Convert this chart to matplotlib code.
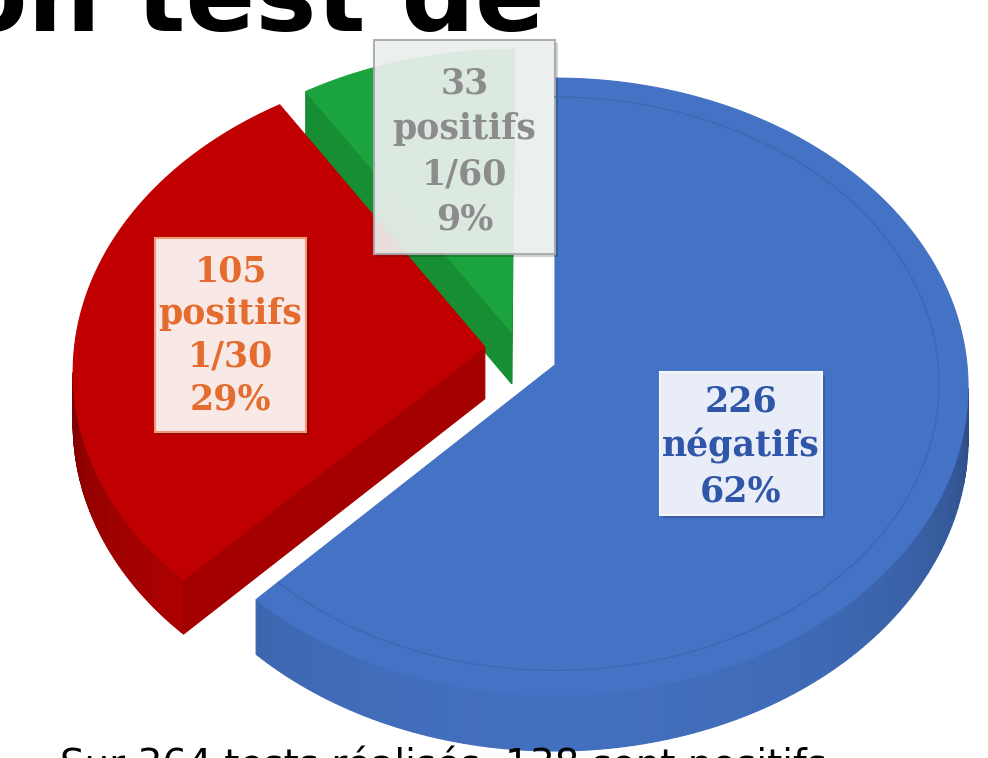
import numpy as np
import matplotlib.pyplot as plt
from matplotlib.patches import Polygon, Rectangle
from matplotlib.colors import to_rgb

# data
counts = [226, 105, 33]
kinds = ["négatifs", "positifs", "positifs"]
ratios = ["", "1/30", "1/60"]

# styles
top_colors = ["#4472C4", "#C00000", "#1BA43D"]
text_colors = ["#2F56A8", "#E46C2E", "#8C8C8C"]
box_colors = ["#E9EDF7", "#F8E8E6", "#EEF2F0"]
box_edges = ["#F4F6FB", "#EC9A78", "#A8A8A8"]
box_alpha = [1.0, 1.0, 0.92]
explode = [(0.0, 0.0), (-0.171, 0.059), (-0.106, 0.108)]  # shift of each slice, pie radius units
boxes = [(660, 372, 162, 143), (155, 238, 151, 194), (374, 40, 181, 214)]  # x, y, w, h in px
first_baseline = [412, 281, 93]
line_step = [45, 43, 45.5]

# pie geometry (pixels)
CX, CY = 555, 365
A, B, K, H = 412, 307, 0.07, 52
CAM_V = -1 / K


def proj(u, v, z=0.0):
    s = 1 / (1 + K * v)
    return CX + A * u * s, CY - B * v * s + H * z * s


def shade(c, f):
    r, g, b = to_rgb(c)
    return (r * f, g * f, b * f)


fig = plt.figure(figsize=(9.88, 7.58), dpi=100)
ax = fig.add_axes([0, 0, 1, 1])
ax.set_xlim(0, 988)
ax.set_ylim(758, 0)
ax.axis("off")

total = sum(counts)
edges = np.concatenate([[0], np.cumsum(counts)]) / total * 360

for i in [2, 1, 0]:
    a0, a1 = np.radians(edges[i]), np.radians(edges[i + 1])
    du, dv = explode[i]
    col = top_colors[i]
    th = np.linspace(a0, a1, 200)
    us, vs = du + np.sin(th), dv + np.cos(th)

    # outer curved side
    for j in range(len(th) - 1):
        tm = 0.5 * (th[j] + th[j + 1])
        pu, pv = du + np.sin(tm), dv + np.cos(tm)
        if (0 - pu) * np.sin(tm) + (CAM_V - pv) * np.cos(tm) <= 0:
            continue
        f = 0.55 + 0.42 * max(0.0, -np.cos(tm)) ** 0.6
        pts = [proj(us[j], vs[j]), proj(us[j + 1], vs[j + 1]),
               proj(us[j + 1], vs[j + 1], 1), proj(us[j], vs[j], 1)]
        ax.add_patch(Polygon(pts, closed=True, fc=shade(col, f), ec=shade(col, f), lw=0.8))

    # flat radial faces
    for ang, sign in [(a0, -1), (a1, 1)]:
        n = (sign * np.cos(ang), -sign * np.sin(ang))
        if (0 - du) * n[0] + (CAM_V - dv) * n[1] <= 1e-6:
            continue
        pu, pv = du + np.sin(ang), dv + np.cos(ang)
        pts = [proj(du, dv), proj(pu, pv), proj(pu, pv, 1), proj(du, dv, 1)]
        ax.add_patch(Polygon(pts, closed=True, fc=shade(col, 0.86), ec=shade(col, 0.86), lw=0.8))

    # top surface
    pts = [proj(du, dv)] + [proj(u, v) for u, v in zip(us, vs)]
    ax.add_patch(Polygon(pts, closed=True, fc=col, ec=col, lw=0.8))

    # bevel line on the big slice
    if i == 0:
        rim = [proj(du + 0.93 * np.sin(t), dv + 0.93 * np.cos(t)) for t in th]
        rx, ry = zip(*rim)
        ax.plot(rx, ry, color=shade(col, 0.9), lw=1.0)

# labels
for i in range(3):
    x, y, w, h = boxes[i]
    ax.add_patch(Rectangle((x + 3, y + 3), w, h, fc="black", alpha=0.18, lw=0))
    ax.add_patch(Rectangle((x, y), w, h, fc=box_colors[i], ec=box_edges[i], lw=1.5,
                           alpha=box_alpha[i]))
    pct = f"{round(100 * counts[i] / total)}%"
    lines = [str(counts[i]), kinds[i]] + ([ratios[i]] if ratios[i] else []) + [pct]
    for k, line in enumerate(lines):
        ax.text(x + w / 2, first_baseline[i] + k * line_step[i], line, ha="center", va="baseline",
                fontsize=25, fontweight="bold", family="DejaVu Serif", color=text_colors[i])

# cropped title and caption
ax.text(545, 31, "on test de", ha="right", va="baseline", fontsize=74, fontweight="bold",
        family="DejaVu Sans", color="black")
ax.text(60, 777, "Sur 364 tests réalisés, 138 sont positifs", ha="left", va="baseline",
        fontsize=28, family="DejaVu Sans", color="black")

fig.savefig("out.png", dpi=100)
